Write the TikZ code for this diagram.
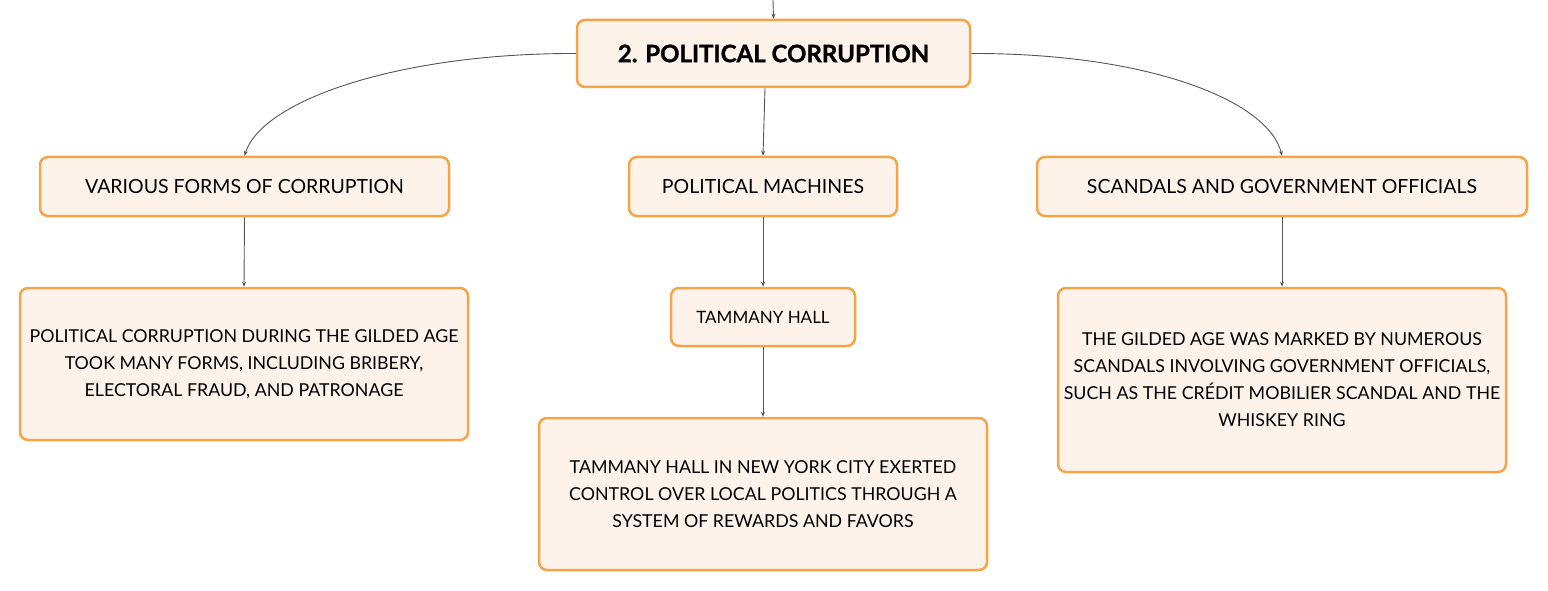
\documentclass[tikz,border=0pt]{standalone}
\usepackage{fontspec}
\setmainfont{Lato}
\newfontfamily\heavyfont{Lato}[BoldFeatures={FakeBold=1.2}]
\usetikzlibrary{arrows.meta}
\definecolor{boxfill}{HTML}{FDF3EA}
\definecolor{boxline}{HTML}{F4A54A}
\definecolor{linkc}{HTML}{555555}
\tikzset{
  box/.style={draw=boxline, fill=boxfill, line width=2.5pt, rounded corners=8pt,
    inner sep=0pt, align=center, font=\fontsize{17.8}{27}\selectfont, text=black},
  head/.style={box, minimum height=59pt, font=\fontsize{19.5}{24}\selectfont},
  link/.style={draw=linkc, line width=0.9pt, -{Stealth[length=5pt,width=4pt]}},
}
\begin{document}
\begin{tikzpicture}[x=1pt,y=-1pt]
\useasboundingbox (0,0) rectangle (1548,591);
\node[box, minimum width=393pt, minimum height=67pt, font=\fontsize{24}{28}\selectfont\heavyfont\bfseries] (root) at (773.5,53.5) {2. POLITICAL CORRUPTION};
\node[head, minimum width=409pt] (forms) at (244.5,186.5) {VARIOUS FORMS OF CORRUPTION};
\node[head, minimum width=268pt] (mach) at (763,186.5) {POLITICAL MACHINES};
\node[head, minimum width=490pt] (scan) at (1282,186.5) {SCANDALS AND GOVERNMENT OFFICIALS};
\node[box, minimum width=448pt, minimum height=152pt] (formsd) at (244,364) {POLITICAL CORRUPTION DURING THE GILDED AGE\\TOOK MANY FORMS, INCLUDING BRIBERY,\\ELECTORAL FRAUD, AND PATRONAGE};
\node[box, minimum width=184pt, minimum height=58pt, font=\fontsize{17}{24}\selectfont] (tam) at (763,317) {TAMMANY HALL};
\node[box, minimum width=448pt, minimum height=152pt] (tamd) at (763,494) {TAMMANY HALL IN NEW YORK CITY EXERTED\\CONTROL OVER LOCAL POLITICS THROUGH A\\SYSTEM OF REWARDS AND FAVORS};
\node[box, minimum width=448pt, minimum height=184pt] (scand) at (1282,380) {THE GILDED AGE WAS MARKED BY NUMEROUS\\SCANDALS INVOLVING GOVERNMENT OFFICIALS,\\SUCH AS THE CRÉDIT MOBILIER SCANDAL AND THE\\WHISKEY RING};
\coordinate (top) at (773,0);
\coordinate (rootb) at ([xshift=2pt]root.south -| mach.north);
\draw[link] (top) -- (root.north);
\draw[link] (root.west) .. controls (400,53) and (262,100) .. (forms.north);
\draw[link] (root.east) .. controls (1147,53) and (1268,100) .. (scan.north);
\draw[link] (rootb) -- (mach.north);
\draw[link] (forms.south) -- (formsd.north);
\draw[link] (mach.south) -- (tam.north);
\draw[link] (tam.south) -- (tamd.north);
\draw[link] (scan.south) -- (scand.north);
\end{tikzpicture}
\end{document}
